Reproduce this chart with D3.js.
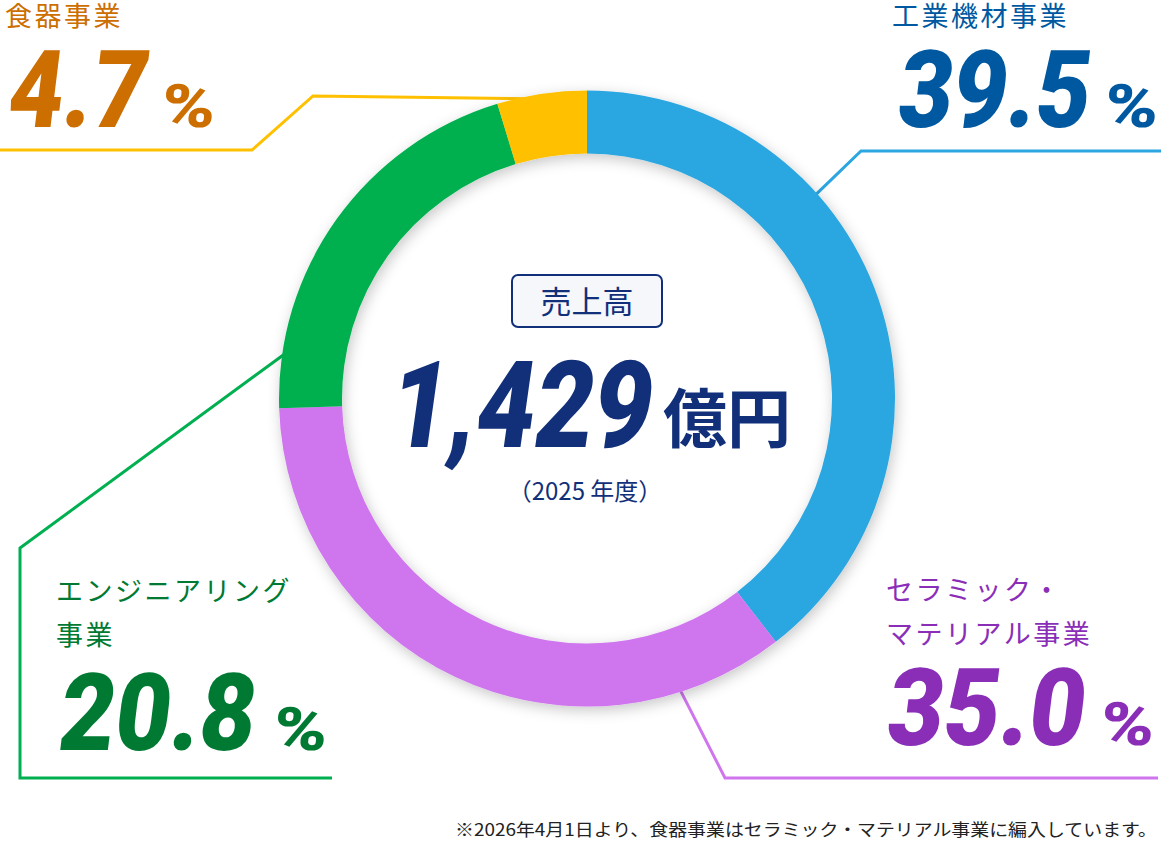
<!DOCTYPE html>
<html lang="ja">
<head>
<meta charset="utf-8">
<script src="https://cdn.jsdelivr.net/npm/d3@7"></script>
<style>
  html, body { margin: 0; padding: 0; background: #fff; }
  #chart { width: 1161px; height: 850px; }
  text { font-family: "Noto Sans CJK JP", "Noto Sans", sans-serif; }
  .num { font-family: Roboto, "Liberation Sans", sans-serif; font-weight: 900; }
</style>
</head>
<body>
<div id="chart"></div>
<script>
// segment data (clockwise from 12 o'clock)
const segNames = ['工業機材事業', 'セラミック・マテリアル事業', 'エンジニアリング事業', '食器事業'];
const segValues = [39.5, 35.0, 20.8, 4.7];
const segColors = ['#2ca6e0', '#cf76ef', '#00b050', '#ffc000'];
const textColors = ['#0059a0', '#8a2eb8', '#007a33', '#cc6e00'];
const labelLines = [['工業機材事業'], ['セラミック・', 'マテリアル事業'], ['エンジニアリング', '事業'], ['食器事業']];

const centerTitle = '売上高';
const centerValue = '1,429';
const centerUnit = '億円';
const centerYear = '（2025 年度）';
const footNote = '※2026年4月1日より、食器事業はセラミック・マテリアル事業に編入しています。';

function draw() {
  const width = 1161, height = 850;
  const cx = 587, cy = 398.5;
  const outerR = 308, innerR = 245;
  const navy = '#12307a';

  // label / leader layout, same order as segValues
  const layout = [
    { x: 892, y: 26, numX: 895, numY: 127, numW: 196, pctX: 1103, leadAngle: 48.3, lead: [[861, 151], [1161, 151]] },
    { x: 886, y: 600, numX: 884, numY: 745, numW: 202, pctX: 1099, leadAngle: 162.3, lead: [[725, 778], [1158, 778]] },
    { x: 56, y: 601, numX: 56, numY: 750, numW: 200, pctX: 272, leadAngle: 278.5, lead: [[20, 548], [20, 778], [332, 778]] },
    { x: 5, y: 26, numX: 5, numY: 127, numW: 143, pctX: 160, leadAngle: 349.4, lead: [[313, 96], [252, 150], [0, 150]] }
  ];

  d3.select('#chart svg').remove();
  const svg = d3.select('#chart').append('svg')
    .attr('width', width)
    .attr('height', height);

  const defs = svg.append('defs');
  const f = defs.append('filter').attr('id', 'shadow')
    .attr('x', '-20%').attr('y', '-20%').attr('width', '140%').attr('height', '140%');
  f.append('feDropShadow')
    .attr('dx', 2).attr('dy', 4)
    .attr('stdDeviation', 7)
    .attr('flood-color', '#000')
    .attr('flood-opacity', 0.22);

  const pie = d3.pie().sort(null).value(d => d);
  const arcs = pie(segValues);
  const arc = d3.arc().innerRadius(innerR).outerRadius(outerR);

  // leader lines (under the ring)
  const line = d3.line();
  layout.forEach((l, i) => {
    const a = l.leadAngle * Math.PI / 180;
    const r = outerR - 3;
    const start = [cx + r * Math.sin(a), cy - r * Math.cos(a)];
    svg.append('path')
      .attr('d', line([start].concat(l.lead)))
      .attr('fill', 'none')
      .attr('stroke', segColors[i])
      .attr('stroke-width', 3)
      .attr('stroke-linejoin', 'miter');
  });

  const ring = svg.append('g')
    .attr('transform', `translate(${cx},${cy})`)
    .attr('filter', 'url(#shadow)');
  ring.selectAll('path')
    .data(arcs)
    .enter()
    .append('path')
    .attr('d', arc)
    .attr('fill', (d, i) => segColors[i]);

  // segment labels
  const fmt = d3.format('.1f');
  layout.forEach((l, i) => {
    const g = svg.append('g').attr('fill', textColors[i]);
    labelLines[i].forEach((t, j) => {
      g.append('text')
        .attr('x', l.x)
        .attr('y', l.y + j * 44)
        .attr('font-size', 27)
        .attr('letter-spacing', 2.5)
        .text(t);
    });
    g.append('text')
      .attr('class', 'num')
      .attr('transform', `translate(${l.numX},${l.numY}) skewX(-7)`)
      .attr('font-size', 108)
      .attr('textLength', l.numW - 4)
      .attr('lengthAdjust', 'spacingAndGlyphs')
      .text(fmt(segValues[i]));
    g.append('text')
      .attr('class', 'num')
      .attr('transform', `translate(${l.pctX},${l.numY}) skewX(-5)`)
      .attr('font-size', 60)
      .attr('textLength', 54)
      .attr('lengthAdjust', 'spacingAndGlyphs')
      .text('%');
  });

  // center block
  const c = svg.append('g').attr('fill', navy);
  c.append('rect')
    .attr('x', 512).attr('y', 275)
    .attr('width', 150).attr('height', 52)
    .attr('rx', 6)
    .attr('fill', '#f5f7fa')
    .attr('stroke', navy)
    .attr('stroke-width', 2);
  c.append('text')
    .attr('x', 587).attr('y', 313)
    .attr('text-anchor', 'middle')
    .attr('font-size', 31)
    .text(centerTitle);
  c.append('text')
    .attr('class', 'num')
    .attr('transform', 'translate(386,447) skewX(-8)')
    .attr('font-size', 121)
    .attr('textLength', 262)
    .attr('lengthAdjust', 'spacingAndGlyphs')
    .text(centerValue);
  c.append('text')
    .attr('x', 663).attr('y', 442)
    .attr('font-size', 64)
    .attr('font-weight', 700)
    .text(centerUnit);
  c.append('text')
    .attr('x', 585).attr('y', 500)
    .attr('text-anchor', 'middle')
    .attr('font-size', 24)
    .text(centerYear);

  svg.append('text')
    .attr('x', 455).attr('y', 836)
    .attr('font-size', 17)
    .attr('fill', '#222')
    .attr('textLength', 702)
    .attr('lengthAdjust', 'spacingAndGlyphs')
    .text(footNote);
}

draw();
</script>
</body>
</html>
